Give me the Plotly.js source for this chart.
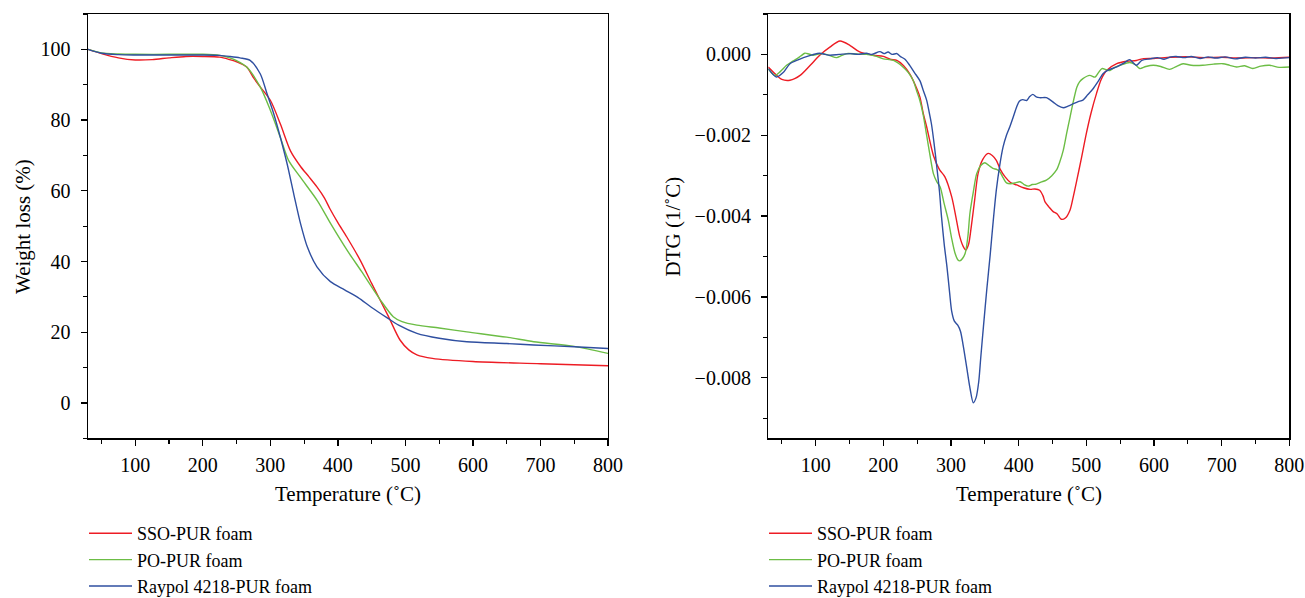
<!DOCTYPE html>
<html>
<head>
<meta charset="utf-8">
<script src="https://cdn.plot.ly/plotly-3.0.1.min.js"></script>
<style>html,body{margin:0;padding:0;background:#fff;}#chart{width:1305px;height:598px;}</style>
</head>
<body>
<div id="chart"></div>
<script>
// ---- TGA (weight loss, %) ----
const tgaSsoT = [30,50,75,100,125,150,175,200,225,240,250,265,275,285,300,315,330,345,357,369,380,388,400,413,433,450,475,492,505,517,540,600,700,800];
const tgaSsoW = [100,98.8,97.6,97.0,97.1,97.6,98.0,98.0,97.8,97.1,96.5,95,92,89.4,85.6,78.8,71.2,66.8,64,61.1,58,55,51,47,40.4,33.8,24.4,17.8,15,13.6,12.6,11.7,11.1,10.5];

const tgaPoT = [30,50,75,100,150,200,225,240,250,265,285,300,315,327,345,370,390,415,435,463,482,495,517,550,591,650,690,750,800];
const tgaPoW = [100,99.0,98.7,98.6,98.6,98.6,98.3,97.6,96.8,95,89.4,82.8,75,68.6,63.7,57.1,50.5,42.8,37.2,29.1,24.4,23,22,21.2,20.1,18.6,17.3,16,14];

const tgaRayT = [30,50,75,100,150,200,225,240,255,270,285,295,305,315,325,335,345,355,369,389,410,430,450,472,490,517,550,591,650,690,750,800];
const tgaRayW = [100,98.9,98.5,98.4,98.4,98.4,98.3,98.0,97.6,96.9,93.1,87.5,81.8,75,67.5,58.8,50.5,44,38.5,34.3,32,29.8,27,24.2,22,19.7,18.3,17.3,16.8,16.4,15.9,15.4];

// ---- DTG (1/°C), values in units of 1e-3 ----
const dtgSsoT = [30,40,50,62,77,92,106,121,136,151,165,185,200,210,220,230,239,247,254,259,264,274,283,291,301,307,313,318,322,326,330,335,340,347,355,361,367,373,380,388,397,407,417,424,431,436,439,445,451,457,463,469,476,481,486,493,500,507,515,522,530,545,560,574,583,600,625,650,675,700,725,750,775,800];
const dtgSsoD = [-0.31,-0.48,-0.62,-0.64,-0.52,-0.27,-0.02,0.18,0.33,0.22,0.06,-0.02,-0.05,-0.12,-0.15,-0.28,-0.48,-0.75,-1.05,-1.46,-1.79,-2.5,-2.85,-3.03,-3.52,-4.0,-4.51,-4.75,-4.84,-4.7,-4.26,-3.6,-2.95,-2.6,-2.45,-2.5,-2.62,-2.85,-3.03,-3.17,-3.23,-3.3,-3.34,-3.33,-3.36,-3.5,-3.65,-3.78,-3.89,-3.95,-4.08,-4.05,-3.85,-3.5,-3.11,-2.55,-1.96,-1.45,-0.97,-0.62,-0.4,-0.23,-0.17,-0.15,-0.11,-0.1,-0.07,-0.06,-0.08,-0.07,-0.09,-0.08,-0.09,-0.07];

const dtgPoT = [30,40,48,57,65,72,78,84,90,96,104,111,121,131,138,146,160,175,190,200,215,229,237,244,249,254,259,264,269,274,279,284,290,296,301,306,310,313,317,321,325,328,333,338,344,350,356,362,368,372,377,382,388,395,402,408,414,420,426,433,441,449,456,461,466,471,476,481,486,490,495,505,513,518,523,530,535,542,550,564,572,579,588,599,610,623,633,643,655,672,688,702,712,722,734,746,758,771,785,800];
const dtgPoD = [-0.36,-0.52,-0.42,-0.27,-0.18,-0.11,-0.04,0.03,0.01,-0.02,0.01,0.02,-0.03,-0.08,-0.03,0.02,0.01,0,-0.05,-0.11,-0.15,-0.31,-0.45,-0.64,-0.89,-1.14,-1.5,-2.0,-2.5,-2.95,-3.15,-3.28,-3.7,-4.1,-4.55,-4.92,-5.08,-5.11,-5.05,-4.92,-4.5,-3.93,-3.4,-2.95,-2.75,-2.68,-2.75,-2.82,-2.85,-2.9,-3.05,-3.18,-3.2,-3.18,-3.15,-3.22,-3.26,-3.22,-3.21,-3.16,-3.11,-3.0,-2.86,-2.65,-2.37,-1.95,-1.55,-1.15,-0.81,-0.68,-0.6,-0.52,-0.56,-0.45,-0.35,-0.38,-0.4,-0.32,-0.27,-0.2,-0.25,-0.35,-0.3,-0.27,-0.3,-0.37,-0.3,-0.23,-0.27,-0.27,-0.24,-0.23,-0.27,-0.31,-0.28,-0.35,-0.29,-0.27,-0.32,-0.31];

const dtgRayT = [30,42,52,62,72,82,95,106,114,121,135,151,163,175,183,195,201,207,213,220,225,232,239,246,254,259,264,268,271,275,279,283,286,290,294,298,301,305,310,314,318,323,328,333,337,341,344,348,353,358,362,367,372,377,382,387,392,397,401,406,412,416,421,426,431,441,446,451,458,466,473,481,488,495,502,510,517,525,533,545,555,564,569,574,582,594,605,615,625,633,645,655,668,680,692,705,720,735,750,765,780,800];
const dtgRayD = [-0.35,-0.56,-0.45,-0.23,-0.15,-0.08,-0.01,0.03,0.0,-0.02,0.0,0.02,0.0,0.03,0.0,0.07,0.02,0.06,0.0,0.02,-0.05,-0.12,-0.27,-0.45,-0.65,-0.89,-1.13,-1.45,-1.71,-2.2,-2.78,-3.4,-4.02,-4.7,-5.25,-5.9,-6.35,-6.6,-6.7,-6.85,-7.2,-7.72,-8.25,-8.62,-8.5,-8.1,-7.5,-6.73,-5.8,-4.95,-4.2,-3.36,-2.75,-2.29,-2.0,-1.79,-1.55,-1.3,-1.16,-1.12,-1.14,-1.05,-0.99,-1.05,-1.07,-1.07,-1.12,-1.18,-1.27,-1.32,-1.28,-1.22,-1.17,-1.13,-1.0,-0.85,-0.68,-0.47,-0.38,-0.31,-0.22,-0.13,-0.2,-0.27,-0.15,-0.11,-0.08,-0.12,-0.06,-0.05,-0.08,-0.05,-0.1,-0.06,-0.09,-0.06,-0.11,-0.07,-0.09,-0.07,-0.1,-0.08];

const seriesNames = ['SSO-PUR foam', 'PO-PUR foam', 'Raypol 4218-PUR foam'];
const xTickVals = [100,200,300,400,500,600,700,800];
const tgaTickVals = [0,20,40,60,80,100];
const dtgTickVals = [-0.008,-0.006,-0.004,-0.002,0.000];

const colors = ['#ed1c24', '#6cbd45', '#2f4fa0'];
const FONT = 'Liberation Serif, Times New Roman, serif';

const scale = d => d.map(v => v / 1000);

function tr(x, y, i, xa, ya, leg) {
  return {
    x: x, y: y, type: 'scatter', mode: 'lines', name: seriesNames[i],
    xaxis: xa, yaxis: ya, legend: leg,
    line: {color: colors[i], width: 1.4, shape: 'spline', smoothing: 0.8},
    hoverinfo: 'x+y'
  };
}

const data = [
  tr(tgaSsoT, tgaSsoW, 0, 'x', 'y', 'legend'),
  tr(tgaPoT, tgaPoW, 1, 'x', 'y', 'legend'),
  tr(tgaRayT, tgaRayW, 2, 'x', 'y', 'legend'),
  tr(dtgSsoT, scale(dtgSsoD), 0, 'x2', 'y2', 'legend2'),
  tr(dtgPoT, scale(dtgPoD), 1, 'x2', 'y2', 'legend2'),
  tr(dtgRayT, scale(dtgRayD), 2, 'x2', 'y2', 'legend2')
];

const W = 1305, H = 598;
const px = v => v / W;
const py = v => 1 - v / H;

function xAxis(domain, anchor) {
  return {
    domain: domain, anchor: anchor, range: [30, 800],
    tickvals: xTickVals, ticktext: xTickVals.map(String),
    ticks: 'outside', ticklen: 6, tickwidth: 1.3, tickcolor: '#000',
    minor: {dtick: 50, tick0: 0, ticks: 'outside', ticklen: 4, tickwidth: 1.2, tickcolor: '#000'},
    showline: true, linecolor: '#000', linewidth: 1.4, mirror: true,
    showgrid: false, zeroline: false,
    tickfont: {family: FONT, size: 20, color: '#000'},
    ticklabelstandoff: 2
  };
}
function yAxis(domain, anchor, range, tickvals, fmt, minorD) {
  return {
    domain: domain, anchor: anchor, range: range,
    tickvals: tickvals, tickformat: fmt,
    ticks: 'outside', ticklen: 6, tickwidth: 1.3, tickcolor: '#000',
    minor: {dtick: minorD, tick0: 0, ticks: 'outside', ticklen: 4, tickwidth: 1.2, tickcolor: '#000'},
    showline: true, linecolor: '#000', linewidth: 1.4, mirror: true,
    showgrid: false, zeroline: false,
    tickfont: {family: FONT, size: 20, color: '#000'},
    ticklabelstandoff: 6
  };
}

const yDom = [py(438.3), py(14)];
const legendFont = {family: FONT, size: 18, color: '#000'};
const titleFont = {family: FONT, size: 21, color: '#000'};
const layout = {
  width: W, height: H,
  margin: {l: 0, r: 0, t: 0, b: 0, autoexpand: false},
  paper_bgcolor: '#fff', plot_bgcolor: '#fff',
  font: {family: FONT, size: 18, color: '#000'},
  xaxis: xAxis([px(88), px(608)], 'y'),
  yaxis: yAxis(yDom, 'x', [-10, 110], tgaTickVals, 'd', 10),
  xaxis2: xAxis([px(768.3), px(1289.3)], 'y2'),
  yaxis2: yAxis(yDom, 'x2', [-0.0095, 0.001], dtgTickVals, '.3f', 0.001),
  showlegend: true,
  legend: {x: px(84), y: py(515), xanchor: 'left', yanchor: 'top', orientation: 'v',
           bgcolor: 'rgba(0,0,0,0)', font: legendFont, itemwidth: 43, tracegroupgap: 0},
  legend2: {x: px(764), y: py(515), xanchor: 'left', yanchor: 'top', orientation: 'v',
           bgcolor: 'rgba(0,0,0,0)', font: legendFont, itemwidth: 43, tracegroupgap: 0},
  annotations: [
    {text: 'Temperature (˚C)', xref: 'paper', yref: 'paper', x: px(347.5), y: py(494), xanchor: 'center', yanchor: 'middle', showarrow: false, font: titleFont},
    {text: 'Temperature (˚C)', xref: 'paper', yref: 'paper', x: px(1029), y: py(494), xanchor: 'center', yanchor: 'middle', showarrow: false, font: titleFont},
    {text: 'Weight loss (%)', xref: 'paper', yref: 'paper', x: px(23), y: py(227), xanchor: 'center', yanchor: 'middle', textangle: -90, showarrow: false, font: titleFont},
    {text: 'DTG (1/˚C)', xref: 'paper', yref: 'paper', x: px(672), y: py(226.5), xanchor: 'center', yanchor: 'middle', textangle: -90, showarrow: false, font: titleFont}
  ]
};

Plotly.newPlot('chart', data, layout, {displayModeBar: false, staticPlot: true});
</script>
</body>
</html>
